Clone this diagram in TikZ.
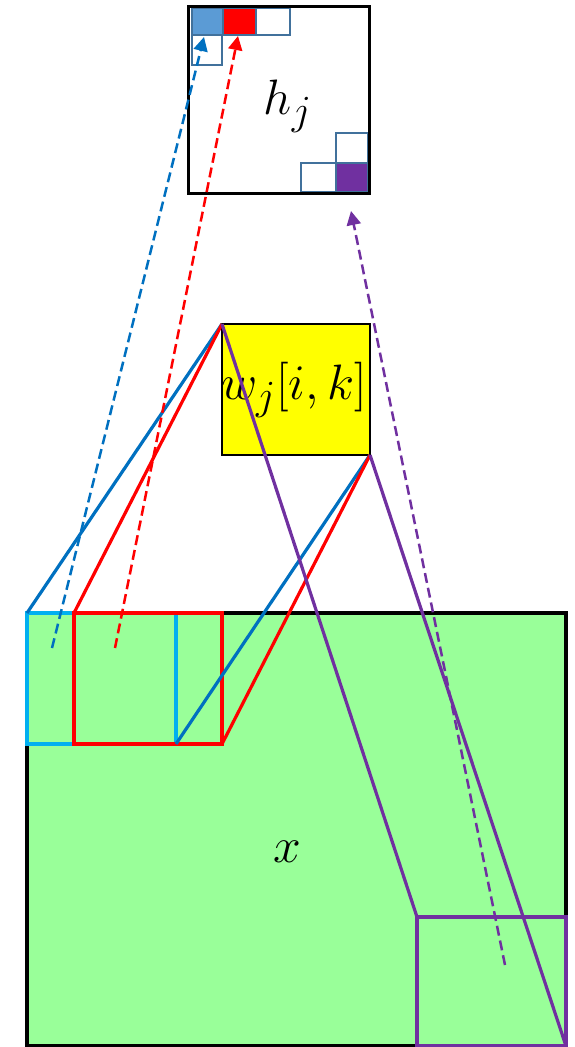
\documentclass[tikz,border=0pt]{standalone}
\usetikzlibrary{arrows.meta}
\definecolor{xgreen}{HTML}{99FF99}
\definecolor{kyellow}{HTML}{FFFF00}
\definecolor{cellblue}{HTML}{5B9BD5}
\definecolor{celledge}{HTML}{41719C}
\definecolor{dblue}{HTML}{0070C0}
\definecolor{lblue}{HTML}{00B0F0}
\definecolor{xred}{HTML}{FF0000}
\definecolor{xpurple}{HTML}{7030A0}
\tikzset{
  box/.style={draw=black, line width=3.2pt, inner sep=0pt, outer sep=0pt},
  win/.style={draw=#1, line width=3.2pt, inner sep=0pt, outer sep=0pt, minimum height=131pt},
  ray/.style={draw=#1, line width=3.2pt},
  cell/.style={draw=celledge, line width=2pt, fill=#1, inner sep=0pt, outer sep=0pt},
  flow/.style={draw=#1, line width=2.5pt, dash pattern=on 10pt off 5pt, -{Triangle[length=14pt,width=14pt]}},
  lbl/.style={font=\Huge, scale=2.0, inner sep=0pt}
}
\begin{document}
\begin{tikzpicture}[x=1pt,y=-1pt]
\useasboundingbox (0,0) rectangle (575,1047);
% input x
\node[box, fill=xgreen, minimum width=539pt, minimum height=433pt] (X) at (296.5,829.5) {};
\node[lbl] (xl) at (287,852) {$x$};
% windows
\node[win=lblue, minimum width=149pt] (cw) at (101.5,678.5) {};
\node[win=xred, minimum width=148pt] (rw) at (148,678.5) {};
\node[draw=xpurple, line width=3.2pt, inner sep=0pt, outer sep=0pt, minimum width=149pt, minimum height=129pt] (pw) at (491.5,981.5) {};
% kernel
\node[draw=black, line width=2.2pt, fill=kyellow, inner sep=0pt, outer sep=0pt, minimum width=148pt, minimum height=131pt] (W) at (296,389.5) {};
\node[lbl] (wl) at (294,390) {$w_j[i,k]$};
% rays
\draw[ray=dblue] (W.north west) -- (cw.north west);
\draw[ray=xred] (W.north west) -- (rw.north west);
\draw[ray=dblue] (W.south east) -- (cw.south east);
\draw[ray=xred] (W.south east) -- (rw.south east);
\draw[ray=xpurple] (W.north west) -- (pw.north west);
\draw[ray=xpurple] (W.south east) -- (pw.south east);
% output h
\node[box, fill=white, minimum width=181pt, minimum height=187pt] (H) at (279,100) {};
\node[cell=white, minimum width=30pt, minimum height=30pt] (c4) at (207,50) {};
\node[cell=white, minimum width=34pt, minimum height=27pt] (c3) at (273,21.5) {};
\node[cell=cellblue, minimum width=31pt, minimum height=27pt] (c1) at (207,21.5) {};
\node[cell=xred, minimum width=33pt, minimum height=27pt] (c2) at (239.5,21.5) {};
\node[cell=white, minimum width=32pt, minimum height=30pt] (c6) at (352,148) {};
\node[cell=white, minimum width=35pt, minimum height=29pt] (c7) at (318.5,177.5) {};
\node[cell=xpurple, minimum width=32pt, minimum height=29pt] (c5) at (352,177.5) {};
\draw[line width=3.2pt] (H.north west) rectangle (H.south east);
\node[lbl] (hl) at (288,106) {$h_j$};
% flows
\coordinate (bs) at (52,648);
\coordinate (bt) at (204,37);
\coordinate (rs) at (115,648);
\coordinate (rt) at (238,36);
\coordinate (ps) at (505,965);
\coordinate (pt) at (351,211);
\draw[flow=dblue] (bs) -- (bt);
\draw[flow=xred] (rs) -- (rt);
\draw[flow=xpurple] (ps) -- (pt);
\end{tikzpicture}
\end{document}
